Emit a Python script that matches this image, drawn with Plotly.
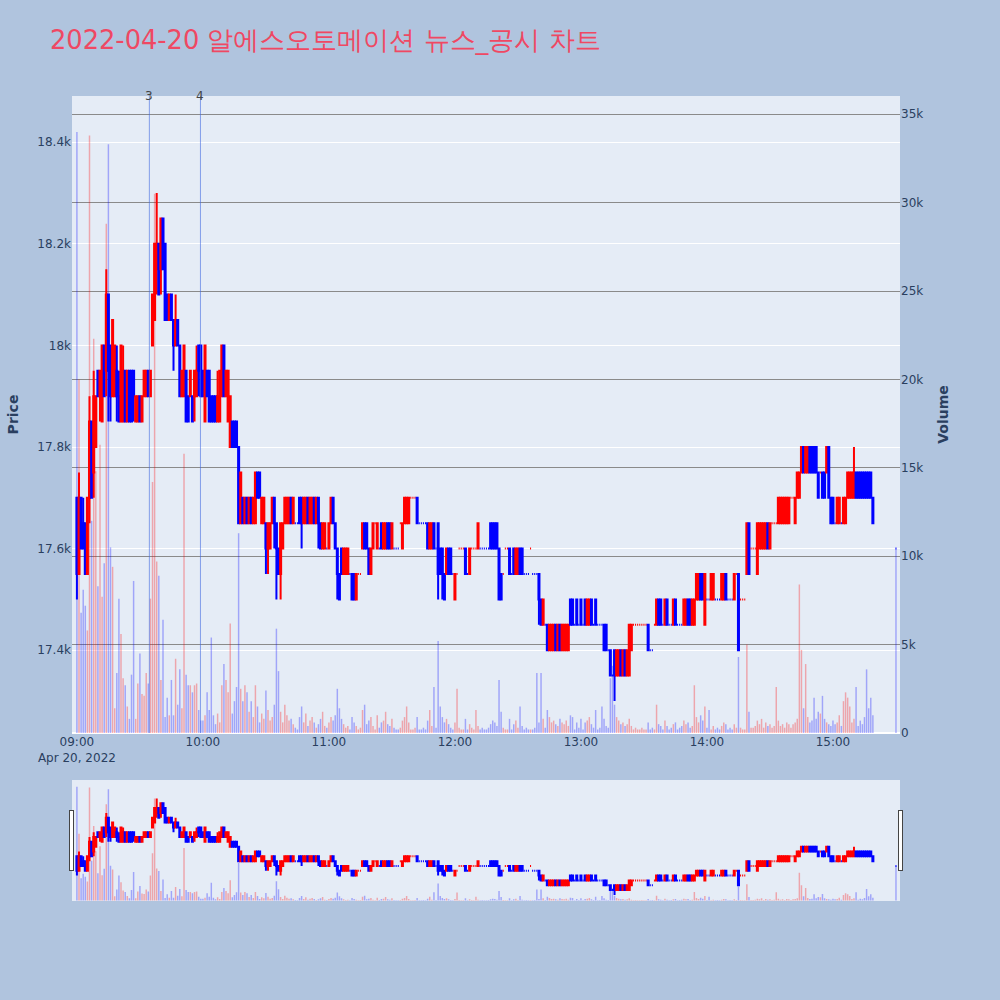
import pandas as pd
import plotly.graph_objects as go
from plotly.subplots import make_subplots

# ---- data (1-minute candles, 2022-04-20) ----
minutes_from_open = list(range(0, 380)) + [390]

opens = [
    17700,17550,17700,17650,17650,17550,17700,17850,17750,17800,
    17950,17900,17850,18000,17950,18100,18000,17900,17900,17950,
    17900,17850,17850,17950,17850,17950,17950,17950,17850,17850,
    17900,17850,17900,17900,17950,17900,18000,18050,18150,18200,
    18150,18250,18200,18100,18050,18100,18050,18000,18050,18000,
    17900,17900,17950,17900,17900,17900,17900,17900,18000,18000,
    17950,17850,17950,17950,17900,17900,17900,17850,17850,17900,
    18000,17900,17850,17800,17850,17850,17850,17800,17650,17700,
    17650,17700,17650,17700,17650,17650,17750,17750,17650,17650,
    17650,17600,17600,17650,17700,17650,17600,17550,17600,17650,
    17650,17650,17700,17650,17650,17650,17700,17700,17650,17650,
    17700,17650,17650,17700,17650,17700,17650,17600,17600,17600,
    17600,17650,17700,17650,17600,17550,17600,17550,17550,17550,
    17550,17550,17550,17500,17550,17550,17600,17650,17650,17600,
    17550,17600,17650,17600,17600,17650,17600,17600,17650,17650,
    17600,17600,17600,17600,17650,17600,17650,17650,17650,17700,
    17700,17700,17700,17650,17650,17650,17650,17650,17600,17600,
    17650,17600,17650,17600,17600,17550,17550,17600,17600,17550,
    17500,17550,17600,17600,17600,17600,17550,17550,17600,17600,
    17600,17600,17600,17600,17600,17600,17600,17650,17650,17650,
    17650,17600,17550,17550,17600,17600,17600,17550,17600,17550,
    17550,17600,17600,17550,17550,17550,17600,17550,17550,17550,
    17550,17500,17450,17450,17450,17400,17400,17400,17450,17400,
    17450,17400,17400,17400,17400,17500,17500,17450,17500,17450,
    17500,17450,17500,17450,17450,17500,17450,17500,17450,17450,
    17450,17450,17450,17400,17400,17350,17400,17350,17350,17400,
    17350,17400,17350,17350,17400,17450,17450,17450,17450,17450,
    17450,17450,17450,17400,17400,17450,17450,17500,17500,17450,
    17450,17500,17450,17450,17450,17500,17450,17450,17450,17450,
    17450,17500,17500,17450,17450,17500,17500,17550,17550,17450,
    17500,17500,17500,17500,17500,17500,17500,17500,17500,17550,
    17500,17500,17500,17500,17550,17550,17500,17500,17500,17550,
    17650,17600,17600,17600,17550,17600,17600,17600,17600,17650,
    17600,17650,17650,17650,17650,17650,17650,17650,17650,17650,
    17700,17700,17650,17700,17700,17750,17800,17750,17750,17800,
    17800,17800,17800,17750,17750,17750,17750,17750,17800,17700,
    17700,17650,17650,17650,17650,17650,17650,17700,17700,17700,
    17700,17750,17750,17750,17750,17750,17750,17750,17750,17700,
    17600,
]

highs = [
    17700,17750,17700,17700,17650,17700,17900,17850,17950,17900,
    17950,17950,18000,18000,18150,18100,18000,18050,18000,18000,
    17950,18000,18000,17950,17950,17950,17950,17950,17900,17900,
    17900,17900,17950,17950,17950,17950,18100,18200,18300,18200,
    18250,18250,18200,18100,18100,18100,18050,18100,18050,18000,
    17950,18000,17950,17900,17950,17900,17950,18000,18000,18000,
    17950,18000,17950,17950,17900,17900,17900,17950,17950,18000,
    18000,17950,17950,17900,17850,17850,17850,17800,17750,17700,
    17700,17700,17700,17700,17700,17750,17750,17750,17700,17700,
    17650,17650,17650,17700,17700,17650,17600,17650,17650,17700,
    17700,17700,17700,17700,17650,17650,17700,17700,17700,17700,
    17700,17700,17700,17700,17700,17700,17650,17650,17650,17600,
    17650,17700,17700,17650,17600,17550,17600,17600,17600,17600,
    17550,17550,17550,17550,17550,17550,17650,17650,17650,17600,
    17600,17650,17650,17650,17600,17650,17650,17650,17650,17650,
    17650,17600,17600,17600,17650,17650,17700,17700,17700,17700,
    17700,17700,17700,17650,17650,17650,17650,17650,17650,17650,
    17650,17600,17650,17600,17600,17550,17600,17600,17600,17550,
    17550,17550,17600,17600,17600,17600,17550,17600,17600,17600,
    17600,17650,17600,17600,17600,17600,17600,17650,17650,17650,
    17650,17600,17550,17550,17600,17600,17600,17550,17600,17600,
    17600,17600,17600,17550,17550,17550,17600,17550,17550,17550,
    17550,17500,17500,17450,17450,17450,17450,17450,17450,17450,
    17450,17450,17450,17450,17450,17500,17500,17450,17500,17450,
    17500,17450,17500,17500,17500,17500,17450,17500,17450,17450,
    17450,17450,17450,17400,17400,17350,17400,17400,17400,17400,
    17400,17400,17400,17450,17450,17450,17450,17450,17450,17450,
    17450,17450,17450,17400,17400,17450,17500,17500,17500,17450,
    17500,17500,17450,17450,17500,17500,17450,17450,17450,17500,
    17500,17500,17500,17500,17500,17550,17550,17550,17550,17550,
    17500,17500,17550,17550,17500,17500,17500,17550,17550,17550,
    17500,17500,17500,17550,17550,17550,17500,17500,17500,17650,
    17650,17600,17600,17600,17650,17650,17650,17650,17650,17650,
    17650,17650,17650,17650,17700,17700,17700,17700,17700,17700,
    17700,17700,17700,17750,17750,17800,17800,17800,17800,17800,
    17800,17800,17800,17750,17750,17750,17750,17800,17800,17700,
    17700,17650,17700,17700,17650,17700,17700,17750,17750,17750,
    17800,17750,17750,17750,17750,17750,17750,17750,17750,17700,
    17600,
]

lows = [
    17500,17550,17600,17600,17550,17550,17650,17700,17700,17800,
    17900,17850,17850,17900,17900,17850,17850,17900,17900,17850,
    17850,17850,17850,17850,17850,17850,17850,17850,17850,17850,
    17850,17850,17900,17900,17900,17900,18000,18050,18100,18100,
    18100,18150,18050,18050,18050,18050,17950,18000,18000,17900,
    17900,17900,17850,17850,17900,17850,17850,17900,17900,17900,
    17900,17850,17900,17850,17850,17850,17850,17850,17850,17900,
    17900,17900,17850,17800,17800,17800,17800,17650,17650,17650,
    17650,17650,17650,17650,17650,17650,17700,17700,17650,17650,
    17550,17550,17600,17650,17600,17500,17550,17500,17600,17650,
    17650,17650,17650,17650,17650,17650,17650,17600,17650,17650,
    17650,17650,17650,17650,17650,17600,17600,17600,17600,17600,
    17600,17650,17650,17600,17500,17500,17550,17550,17550,17550,
    17550,17500,17500,17500,17550,17550,17600,17600,17600,17550,
    17550,17600,17650,17600,17600,17600,17600,17600,17600,17600,
    17600,17600,17600,17600,17650,17600,17650,17650,17650,17700,
    17700,17700,17650,17650,17650,17650,17650,17600,17600,17600,
    17600,17600,17500,17550,17500,17500,17550,17550,17550,17550,
    17500,17550,17600,17600,17600,17550,17550,17550,17600,17600,
    17600,17600,17600,17600,17600,17600,17600,17600,17600,17600,
    17600,17500,17500,17550,17600,17600,17550,17550,17550,17550,
    17550,17550,17550,17550,17550,17550,17600,17550,17550,17550,
    17450,17450,17450,17450,17400,17400,17400,17400,17400,17400,
    17400,17400,17400,17400,17400,17450,17450,17450,17450,17450,
    17450,17450,17450,17450,17450,17450,17450,17450,17450,17450,
    17450,17400,17400,17400,17350,17350,17300,17350,17350,17350,
    17350,17350,17350,17350,17400,17450,17450,17450,17450,17450,
    17450,17450,17400,17400,17400,17450,17450,17450,17450,17450,
    17450,17450,17450,17450,17450,17450,17450,17450,17450,17450,
    17450,17450,17450,17450,17450,17500,17500,17500,17500,17450,
    17500,17500,17500,17500,17500,17500,17500,17500,17500,17500,
    17500,17500,17500,17500,17550,17400,17500,17500,17500,17550,
    17550,17600,17600,17600,17550,17600,17600,17600,17600,17600,
    17600,17650,17650,17650,17650,17650,17650,17650,17650,17650,
    17700,17700,17650,17700,17700,17750,17750,17750,17750,17750,
    17750,17750,17750,17700,17750,17700,17700,17750,17700,17650,
    17650,17650,17650,17650,17650,17650,17650,17700,17700,17700,
    17700,17700,17700,17700,17700,17700,17700,17700,17700,17650,
    17600,
]

closes = [
    17550,17700,17600,17600,17550,17700,17850,17700,17900,17900,
    17900,17950,18000,17900,18100,17950,17900,18050,18000,17900,
    17850,18000,17950,17850,17950,17850,17850,17900,17900,17900,
    17850,17900,17950,17950,17900,17950,18100,18200,18200,18100,
    18250,18150,18050,18050,18100,18050,18000,18050,18000,17900,
    17950,18000,17850,17850,17950,17850,17950,17950,17950,17900,
    17900,18000,17900,17850,17850,17850,17850,17900,17950,18000,
    17900,17950,17950,17900,17800,17800,17800,17650,17750,17650,
    17700,17650,17700,17650,17700,17750,17700,17700,17700,17700,
    17600,17650,17650,17700,17650,17600,17550,17650,17650,17700,
    17700,17700,17650,17700,17650,17650,17650,17650,17700,17700,
    17650,17700,17700,17650,17700,17650,17600,17650,17650,17600,
    17650,17700,17650,17600,17550,17500,17550,17600,17600,17600,
    17550,17500,17500,17550,17550,17550,17650,17600,17600,17550,
    17600,17650,17650,17650,17600,17600,17650,17650,17600,17600,
    17650,17600,17600,17600,17650,17650,17700,17700,17700,17700,
    17700,17700,17650,17650,17650,17650,17650,17600,17650,17650,
    17600,17600,17550,17550,17550,17500,17600,17550,17550,17550,
    17550,17550,17600,17600,17600,17550,17550,17600,17600,17600,
    17600,17650,17600,17600,17600,17600,17600,17600,17600,17600,
    17600,17500,17500,17550,17600,17600,17550,17550,17550,17600,
    17600,17550,17550,17550,17550,17550,17600,17550,17550,17550,
    17500,17450,17500,17450,17400,17450,17450,17450,17400,17450,
    17400,17450,17450,17450,17450,17450,17450,17450,17450,17450,
    17450,17450,17450,17500,17500,17450,17450,17450,17450,17450,
    17450,17400,17400,17400,17350,17350,17350,17400,17400,17350,
    17400,17350,17400,17450,17450,17450,17450,17450,17450,17450,
    17450,17450,17400,17400,17400,17450,17500,17450,17450,17450,
    17500,17450,17450,17450,17500,17450,17450,17450,17450,17500,
    17500,17450,17450,17500,17500,17550,17550,17500,17500,17550,
    17500,17500,17550,17550,17500,17500,17500,17550,17550,17500,
    17500,17500,17500,17550,17550,17400,17500,17500,17500,17650,
    17550,17600,17600,17600,17650,17650,17650,17650,17650,17600,
    17650,17650,17650,17650,17700,17700,17700,17700,17700,17700,
    17700,17700,17700,17750,17750,17800,17750,17800,17800,17750,
    17750,17750,17750,17700,17750,17700,17700,17800,17700,17650,
    17650,17650,17700,17700,17650,17700,17700,17750,17750,17750,
    17750,17700,17700,17700,17700,17700,17700,17700,17700,17650,
    17600,
]

volumes = [
    34000,20000,6800,8100,7200,5800,33800,12000,22300,14800,
    8300,16300,7700,9600,28800,33300,10500,9400,1400,3400,
    7600,5600,3100,2700,1500,800,3300,8600,800,2800,
    4500,2200,2100,3400,2800,7600,14200,30500,9700,8900,
    3000,6400,900,2000,1000,3000,1000,4200,1600,3600,
    1400,15800,3300,2700,2700,2300,2700,2800,1300,700,
    700,1000,2300,1300,5400,1000,500,1100,600,2700,
    3900,3000,2300,6200,1100,1800,2600,11300,2500,1800,
    2700,2300,1200,1800,900,2700,1500,600,1100,800,
    2400,1300,700,900,1600,5900,3500,1200,600,1600,
    1000,700,800,500,300,200,900,1500,600,1100,
    400,700,900,600,300,500,800,1200,400,300,
    600,900,700,1000,2500,1400,800,500,300,400,
    200,900,600,400,200,300,1300,1600,500,700,
    900,400,200,1000,300,600,700,1200,500,400,
    800,300,200,200,300,700,900,1500,600,200,
    200,300,900,200,200,300,200,700,1300,400,
    2600,300,5200,1500,900,600,800,500,300,200,
    600,2500,300,200,200,800,200,500,300,200,
    1300,400,200,300,200,200,300,500,700,600,
    400,3000,1200,300,200,200,800,200,500,700,
    300,1500,400,200,300,200,200,200,300,3400,
    600,3400,800,300,1300,900,600,700,500,400,
    800,600,500,700,400,1000,900,200,600,300,
    800,200,600,700,900,500,300,1300,200,300,
    1500,800,400,300,3100,3800,1600,900,700,500,
    600,400,500,800,400,200,300,200,200,300,
    200,200,600,200,300,200,1600,500,400,200,
    700,400,200,300,500,600,200,300,400,700,
    500,600,300,400,2700,900,600,1000,700,1500,
    300,1300,200,400,200,300,200,400,600,500,
    200,300,200,500,300,4300,300,200,200,5000,
    1200,300,300,400,700,500,800,300,600,400,
    500,300,400,2600,700,400,500,300,600,500,
    300,500,600,800,8400,4700,1400,3900,900,600,
    700,2000,800,1200,1100,2100,800,600,500,400,
    700,500,600,1000,400,1800,2300,2000,1500,600,
    800,2600,400,700,500,900,3600,1400,2000,1000,
    10400,
]

news_times = ["2022-04-20 09:34:30", "2022-04-20 09:58:50"]
news_labels = ["3", "4"]

title_text = "2022-04-20 알에스오토메이션 뉴스_공시 차트"

# ---- build ----
times = pd.Timestamp("2022-04-20 09:00") + pd.to_timedelta(minutes_from_open, unit="min")

# volume colours follow the candle direction (plotly's rule for flat candles)
vol_colors = []
prev_close = None
prev_up = True
for o, c in zip(opens, closes):
    if c > o:
        up = True
    elif c < o:
        up = False
    elif prev_close is not None and c != prev_close:
        up = c > prev_close
    else:
        up = prev_up
    vol_colors.append("rgba(255,0,0,0.3)" if up else "rgba(0,0,255,0.3)")
    prev_close, prev_up = c, up

fig = make_subplots(specs=[[{"secondary_y": True}]])

fig.add_trace(
    go.Candlestick(
        x=times, open=opens, high=highs, low=lows, close=closes,
        increasing=dict(line=dict(color="red"), fillcolor="red"),
        decreasing=dict(line=dict(color="blue"), fillcolor="blue"),
        name="Price", showlegend=False,
    ),
    secondary_y=False,
)

fig.add_trace(
    go.Bar(
        x=times, y=volumes, marker=dict(color=vol_colors, line=dict(width=0)),
        name="Volume", showlegend=False,
    ),
    secondary_y=True,
)

for t, lab in zip(news_times, news_labels):
    fig.add_shape(type="line", x0=t, x1=t, xref="x", y0=0, y1=1, yref="paper",
                  line=dict(color="rgba(65,105,225,0.6)", width=1))
    fig.add_annotation(x=t, xref="x", y=1, yref="paper", text=lab, showarrow=False,
                       yanchor="middle", font=dict(size=12, color="#444"))

fig.update_layout(
    width=1000, height=1000,
    paper_bgcolor="lightsteelblue",
    font=dict(family="DejaVu Sans"),
    title=dict(text=title_text, x=0.05, xanchor="left", y=0.96, yanchor="middle",
               font=dict(size=25.7, color="#EF4863")),
    margin=dict(l=72, r=100, t=96, b=100),
    bargap=0.3,
)
fig.update_xaxes(domain=[0, 1], rangeslider=dict(visible=True),
                 range=["2022-04-20 08:57:40", "2022-04-20 15:31:55"])
fig.update_yaxes(title_text="<b>Price</b>", secondary_y=False, range=[17237, 18491])
fig.update_yaxes(title_text="<b>Volume</b>", secondary_y=True, range=[0, 36030],
                 gridcolor="#8a8a8a", showgrid=True)

fig.write_html("out.html", config={"displayModeBar": False},
               post_script="document.body.style.margin='0';")
